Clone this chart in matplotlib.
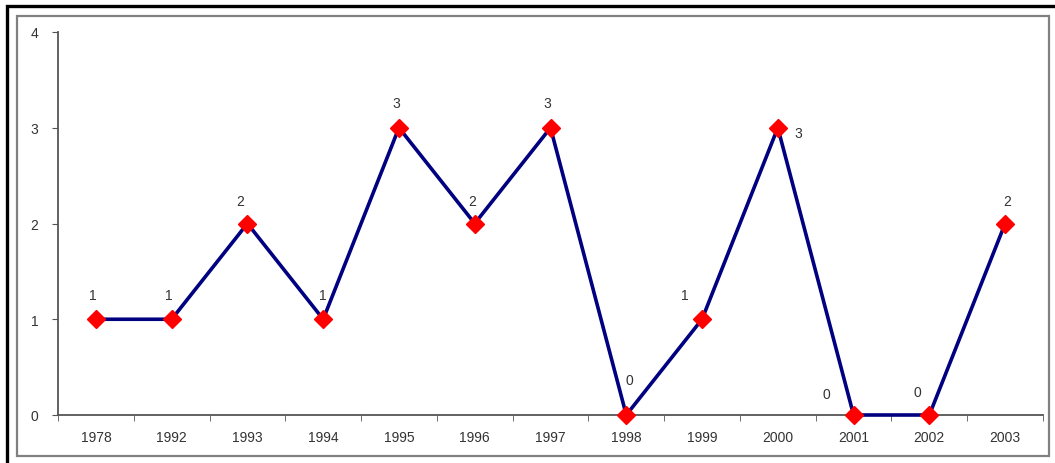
import matplotlib
matplotlib.use("Agg")
import matplotlib.pyplot as plt
from matplotlib.patches import Rectangle

years = ["1978", "1992", "1993", "1994", "1995", "1996", "1997",
         "1998", "1999", "2000", "2001", "2002", "2003"]
counts = [1, 1, 2, 1, 3, 2, 3, 0, 1, 3, 0, 0, 2]
yticks = [0, 1, 2, 3, 4]
# label offsets in pixels (dx, dy) relative to each point
label_offsets = [(-3, 24), (-3, 24), (-7, 23), (0, 24), (-3, 25), (-3, 23), (-3, 25),
                 (3, 35), (-17, 24), (20, -5), (-27, 21), (-12, 23), (2, 23)]

W, H = 1055, 464
fig = plt.figure(figsize=(W / 100, H / 100), dpi=100)
fig.patch.set_facecolor("white")

# outer frames
fig.add_artist(Rectangle((7 / W, -0.01), 1.1, 1 - 7 / H + 0.01, transform=fig.transFigure,
                         fill=False, edgecolor="black", linewidth=2.4))
fig.add_artist(Rectangle((17 / W, 1 - 457 / H), (1049 - 17) / W, (457 - 17) / H,
                         transform=fig.transFigure, fill=False,
                         edgecolor="#808080", linewidth=1.6))

ax = fig.add_axes([58 / W, 1 - 416 / H, (1043 - 58) / W, (416 - 33) / H])
x = list(range(len(years)))
ax.plot(x, counts, color="#000080", linewidth=2.6, zorder=4, clip_on=False)
ax.plot(x, counts, linestyle="none", marker="D", markersize=9.5,
        markerfacecolor="#ff0000", markeredgecolor="#ff0000", zorder=5, clip_on=False)

for xi, v, (dx, dy) in zip(x, counts, label_offsets):
    ax.annotate(str(v), (xi, v), xytext=(dx * 0.72, dy * 0.72), textcoords="offset points",
                ha="center", va="center", fontsize=10, color="#333333",
                family="Liberation Sans", annotation_clip=False)

ax.set_xlim(-0.5, len(years) - 0.5)
ax.set_ylim(0, 4)
ax.set_yticks(yticks)
ax.set_yticklabels([str(t) for t in yticks], family="Liberation Sans", fontsize=10,
                   color="#333333")
ax.set_xticks(x)
ax.set_xticklabels(years, family="Liberation Sans", fontsize=10, color="#333333")
ax.set_xticks([i - 0.5 for i in range(len(years) + 1)], minor=True)
ax.tick_params(axis="x", which="major", length=0, pad=11)
ax.tick_params(axis="x", which="minor", length=4, direction="out", color="#555555")
ax.tick_params(axis="y", length=4, direction="out", color="#555555", pad=10)

for s in ["top", "right"]:
    ax.spines[s].set_visible(False)
for s in ["left", "bottom"]:
    ax.spines[s].set_color("#555555")
    ax.spines[s].set_linewidth(1.3)

fig.savefig("out.png", dpi=100)
